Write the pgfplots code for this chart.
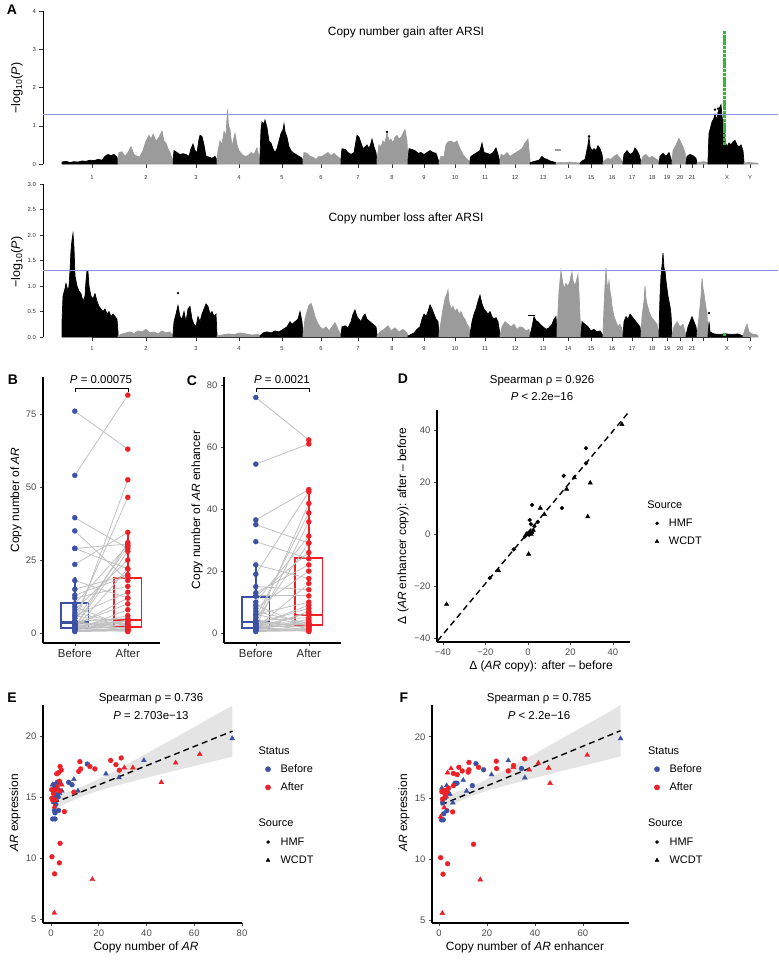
\documentclass[border=0pt]{standalone}
\usepackage{pgfplots}
\pgfplotsset{compat=1.18}
\usepackage{pgfplotstable}
\usepgfplotslibrary{statistics}
\usepackage{fontspec}
\setmainfont{Liberation Sans}
\definecolor{blueC}{RGB}{59,82,164}
\definecolor{redC}{RGB}{236,32,38}
\definecolor{gryM}{RGB}{155,155,155}
\definecolor{greenM}{RGB}{50,185,50}
\definecolor{thrC}{RGB}{140,145,225}
\definecolor{tickC}{RGB}{77,77,77}
\definecolor{pairC}{RGB}{192,192,192}
\newcommand\fs[1]{\fontsize{#1}{#1}\selectfont}
\pgfplotsset{
  manh/.style={scale only axis, width=735bp, height=153bp, xmin=43, xmax=778, ymin=0,
    axis x line*=bottom, axis y line*=left,
    x axis line style={draw=none}, y axis line style={line width=0.5bp,-},
    xtick={92,146,196,239,282,321,358,392,424,455,485,515,543,568,591,612,632,652,667,680,692,703,727,750},
    xticklabels={1,2,3,4,5,6,7,8,9,10,11,12,13,14,15,16,17,18,19,20,21,{},X,Y},
    tick align=outside, major tick length=3.5bp, tick style={line width=0.5bp, black!80},
    xticklabel style={font=\fs{5.8}, text=black!80},
    yticklabel style={font=\fs{6}, text=black!80},
  },
  blk/.style={fill=black, draw=black, line width=0.7bp},
  gry/.style={fill=gryM, draw=gryM, line width=0.7bp},
  ggp/.style={scale only axis, axis lines=left, axis line style={-, line width=1.1bp, black},
    tick align=outside, major tick length=3bp, tick style={line width=0.6bp, black!70},
    ticklabel style={font=\fs{9.5}, text=tickC}, /pgf/number format/assume math mode=true, clip=false},
  leg/.style 2 args={legend style={draw=none, fill=none, inner sep=0pt, outer sep=0pt,
    at={(#1,#2)}, anchor=north west, font=\fs{11}, row sep=7.2bp, column sep=10bp,
    nodes={inner sep=0pt, outer sep=0pt, text height=8.5bp, text depth=2.5bp}},
    legend cell align=left},
  bxp/.style={boxplot/draw direction=y, boxplot/box extend=0.52, boxplot/whisker extend=0,
    boxplot/every box/.style={line width=1.5bp},
    boxplot/every whisker/.style={line width=1.5bp},
    boxplot/every median/.style={line width=2.3bp}},
}
\pgfplotstableread{
b a
76 63
54 81.5
39.5 29
35 18
29 30.5
29 22
23.5 34.5
18 12
3 52.5
5 46.5
2 31
10 30
4 29.5
2 28
8 25
1.5 22
15 20
12 16
6 14
2.5 12
3 10
1 8
2 6
4 5
1 4.5
3 4
2 3.5
1.5 3
6 2.5
2 2
1 1.5
4 1.5
3 1
2 2
9 2
1 1
2.5 4
7 3
3.5 2.5
1.5 1.2
0.5 0.8
13 19.5
2 0.5
}\tabB
\pgfplotstableread{
b a
76 62.3
54.5 61
36.5 46.3
35 29
29.5 24
22 17.6
19 45.6
3 41.8
5 38.8
2 35.9
10 31.3
4 29.1
8 20
1.5 16
15 14
12 12
6 10
2.5 9
3 8
1 7
2 6.4
4 5
1 4.5
3 4
2 3.5
1.5 3
6 2.5
2 2
1 1.5
4 1.5
3 1
2 2
9 2
1 1
2.5 3
7 3
3.5 2.5
1.5 1.2
0.5 0.8
13 22
2 0.5
11.9 26
}\tabC
\begin{document}
\begin{tikzpicture}[x=1bp,y=1bp]
\path[use as bounding box] (0bp,0bp) rectangle (779bp,-967bp);

% ---------------- A top: gain
\begin{axis}[manh, at={(43bp,-164bp)}, anchor=south west, ymax=4, ytick={0,1,2,3,4}, yticklabels={0,1,2,3,4},
  xticklabel style={yshift=-4.5bp}]
\addplot[blk] coordinates {(62,0.05)(66,0.07)(70,0.04)(74,0.06)(78,0.05)(82,0.08)(86,0.07)(90,0.1)(94,0.09)(98,0.12)(102,0.1)(105,0.2)(108,0.25)(111,0.22)(114,0.25)(117,0.18)(118,0.05)} \closedcycle;
\addplot[gry] coordinates {(118,0.1)(119,0.3)(122,0.32)(125,0.2)(128,0.3)(131,0.45)(134,0.25)(137,0.2)(140,0.2)(143,0.35)(146,0.6)(149,0.75)(151,0.65)(153,0.78)(156,0.6)(159,0.7)(162,0.86)(164,0.6)(166,0.55)(168,0.4)(170,0.3)(172,0.15)} \closedcycle;
\addplot[blk] coordinates {(173,0.1)(174,0.35)(177,0.3)(180,0.25)(183,0.27)(186,0.25)(189,0.2)(191,0.4)(193,0.52)(195,0.35)(197,0.3)(199,0.65)(200,0.75)(202,0.72)(204,0.5)(206,0.2)(209,0.18)(212,0.15)(215,0.2)(217,0.1)} \closedcycle;
\addplot[gry] coordinates {(217,0.1)(218,0.35)(220,0.6)(222,0.5)(224,0.85)(226,0.75)(227.5,1.42)(228.5,1.0)(230,0.9)(232,0.45)(234,0.7)(235,0.8)(237,0.5)(239,0.35)(242,0.25)(245,0.2)(248,0.22)(251,0.3)(254,0.25)(257,0.42)(259,0.2)(260,0.05)} \closedcycle;
\addplot[blk] coordinates {(260,0.2)(261,0.9)(262,1.1)(264,1.05)(265,1.15)(267,0.95)(269,0.6)(271,0.55)(273,0.4)(275,0.3)(277,0.4)(279,0.6)(281,0.8)(283,0.9)(284,1.05)(285,0.85)(287,0.7)(289,0.45)(291,0.35)(293,0.3)(296,0.25)(299,0.2)(302,0.15)(303,0.05)} \closedcycle;
\addplot[gry] coordinates {(303,0.1)(304,0.3)(307,0.28)(310,0.2)(313,0.18)(316,0.12)(319,0.2)(322,0.2)(325,0.25)(328,0.3)(331,0.22)(334,0.28)(337,0.2)(340,0.15)(341,0.05)} \closedcycle;
\addplot[blk] coordinates {(341,0.15)(342,0.4)(345,0.38)(348,0.3)(351,0.25)(354,0.3)(356,0.6)(357,0.75)(359,0.7)(361,0.55)(363,0.4)(365,0.45)(367,0.5)(369,0.4)(371,0.55)(372,0.65)(374,0.45)(376,0.3)(377,0.05)} \closedcycle;
\addplot[gry] coordinates {(377,0.1)(379,0.5)(381,0.45)(383,0.6)(385,0.55)(387,0.82)(389,0.6)(391,0.65)(393,0.55)(395,0.7)(397,0.75)(399,0.65)(401,0.7)(403,0.8)(405,0.9)(407,0.6)(408,0.05)} \closedcycle;
\addplot[blk] coordinates {(408,0.1)(409,0.4)(412,0.38)(415,0.35)(418,0.28)(421,0.3)(424,0.25)(427,0.3)(430,0.35)(433,0.3)(436,0.28)(439,0.05)} \closedcycle;
\addplot[gry] coordinates {(439,0.05)(441,0.2)(444,0.2)(446,0.5)(448,0.58)(451,0.6)(454,0.55)(457,0.6)(460,0.4)(463,0.25)(466,0.15)(470,0.05)} \closedcycle;
\addplot[blk] coordinates {(470,0.1)(471,0.2)(474,0.25)(477,0.3)(480,0.35)(482,0.55)(484,0.3)(487,0.28)(490,0.25)(493,0.3)(496,0.42)(498,0.25)(500,0.05)} \closedcycle;
\addplot[gry] coordinates {(500,0.1)(501,0.25)(504,0.22)(507,0.3)(510,0.2)(513,0.25)(516,0.3)(519,0.35)(522,0.4)(525,0.55)(528,0.65)(530,0.1)} \closedcycle;
\addplot[blk] coordinates {(530,0.03)(533,0.06)(536,0.08)(539,0.1)(542,0.2)(544,0.15)(547,0.12)(550,0.08)(553,0.06)(556,0.03)} \closedcycle;
\addplot[gry] coordinates {(556,0.02)(560,0.04)(565,0.03)(570,0.05)(575,0.04)(580,0.02)} \closedcycle;
\addplot[gryM, line width=1.6bp] coordinates {(555,0.37)(561,0.37)};
\addplot[blk] coordinates {(580,0.03)(582,0.08)(585,0.12)(588,0.5)(589,0.7)(590,0.45)(592,0.35)(594,0.4)(596,0.35)(598,0.48)(600,0.4)(602,0.25)(603,0.05)} \closedcycle;
\addplot[gry] coordinates {(603,0.05)(605,0.1)(608,0.15)(611,0.12)(614,0.2)(617,0.25)(620,0.15)(623,0.05)} \closedcycle;
\addplot[blk] coordinates {(623,0.05)(624,0.25)(627,0.35)(630,0.25)(633,0.3)(635,0.42)(637,0.35)(639,0.25)(641,0.05)} \closedcycle;
\addplot[gry] coordinates {(641,0.05)(643,0.2)(646,0.25)(649,0.15)(652,0.2)(655,0.15)(658,0.1)(659,0.03)} \closedcycle;
\addplot[blk] coordinates {(659,0.03)(660,0.2)(663,0.28)(666,0.2)(669,0.3)(672,0.05)} \closedcycle;
\addplot[gry] coordinates {(672,0.05)(673,0.35)(675,0.45)(677,0.55)(679,0.67)(681,0.55)(683,0.45)(685,0.3)(686,0.05)} \closedcycle;
\addplot[blk] coordinates {(686,0.03)(687,0.2)(690,0.25)(693,0.22)(696,0.15)(697,0.03)} \closedcycle;
\addplot[gry] coordinates {(697,0.02)(700,0.05)(704,0.06)(708,0.03)} \closedcycle;
\addplot[blk] coordinates {(708,0.1)(709,0.8)(711,1.0)(712,1.1)(714,1.2)(715,1.3)(717,1.15)(718,1.35)(720,1.5)(721,1.55)(722,1.25)(724,0.9)(725,0.6)(727,0.45)(729,0.55)(731,0.5)(733,0.58)(735,0.62)(737,0.5)(739,0.45)(741,0.5)(743,0.35)(744,0.05)} \closedcycle;
\addplot[gry] coordinates {(744,0.02)(748,0.04)(753,0.03)(758,0.02)} \closedcycle;
\addplot[only marks, mark=*, mark size=1bp, black] coordinates {(715,1.42)(718,1.45)(720,1.38)(589,0.72)(387,0.84)};
\addplot[only marks, mark=square*, mark size=1.1bp, greenM] coordinates {(724,0.55)(724,0.65)(724,0.75)(724,0.85)(724,0.95)(724,1.05)(724,1.15)(724,1.25)(724,1.35)(724,1.45)(724,1.55)(724,1.65)(724,1.75)(724,1.85)(724,1.95)(724,2.05)(724,2.15)(724,2.25)(724,2.35)(724,2.45)(724,2.55)(724,2.65)(724,2.75)(724,2.85)(724,2.95)(724,3.05)(724,3.15)(724,3.25)(724,3.35)(724,3.45)};
\addplot[thrC, line width=0.6bp] coordinates {(43,1.301)(778,1.301)};
\end{axis}

% ---------------- A bottom: loss
\begin{axis}[manh, at={(43bp,-337bp)}, anchor=south west, ymax=3, ytick={0,0.5,1,1.5,2,2.5,3},
  yticklabels={0.0,0.5,1.0,1.5,2.0,2.5,3.0}, xticklabel style={yshift=-2.5bp}]
\addplot[blk] coordinates {(62,0.3)(63,0.8)(65,0.95)(66,1.05)(68,0.9)(69,1.0)(70,1.3)(71,1.7)(72,1.9)(73,2.03)(74,1.75)(75,1.2)(77,1.0)(79,0.9)(81,0.85)(83,0.7)(85,0.8)(86,1.1)(87,1.3)(88,1.28)(89,1.0)(91,0.8)(93,0.75)(95,0.85)(97,0.7)(99,0.6)(101,0.55)(103,0.5)(105,0.55)(107,0.45)(109,0.5)(111,0.4)(113,0.45)(115,0.4)(117,0.35)(118,0.1)} \closedcycle;
\addplot[gry] coordinates {(118,0.02)(122,0.06)(126,0.08)(130,0.1)(134,0.07)(138,0.12)(142,0.1)(146,0.15)(150,0.08)(154,0.1)(158,0.06)(162,0.12)(166,0.08)(170,0.1)(173,0.02)} \closedcycle;
\addplot[blk] coordinates {(173,0.05)(174,0.3)(176,0.45)(178,0.62)(180,0.4)(182,0.35)(184,0.5)(186,0.3)(188,0.55)(190,0.6)(192,0.35)(194,0.25)(196,0.2)(198,0.4)(200,0.3)(202,0.45)(204,0.55)(206,0.65)(208,0.6)(210,0.45)(212,0.5)(214,0.4)(216,0.45)(217,0.05)} \closedcycle;
\addplot[gry] coordinates {(217,0.02)(222,0.04)(228,0.06)(234,0.05)(240,0.08)(246,0.06)(252,0.04)(258,0.05)(260,0.02)} \closedcycle;
\addplot[blk] coordinates {(260,0.02)(263,0.08)(267,0.1)(271,0.08)(275,0.12)(279,0.1)(283,0.15)(287,0.2)(290,0.3)(292,0.25)(295,0.3)(298,0.35)(300,0.5)(302,0.3)(303,0.05)} \closedcycle;
\addplot[gry] coordinates {(303,0.05)(305,0.35)(307,0.5)(309,0.62)(311,0.66)(313,0.55)(315,0.4)(317,0.3)(320,0.2)(323,0.15)(326,0.2)(329,0.12)(332,0.2)(335,0.28)(338,0.15)(341,0.03)} \closedcycle;
\addplot[blk] coordinates {(341,0.05)(342,0.2)(345,0.22)(348,0.18)(351,0.3)(353,0.45)(355,0.53)(357,0.4)(359,0.35)(361,0.3)(363,0.4)(365,0.45)(367,0.35)(370,0.3)(373,0.25)(376,0.2)(377,0.05)} \closedcycle;
\addplot[gry] coordinates {(377,0.02)(380,0.1)(384,0.15)(388,0.22)(391,0.12)(395,0.18)(399,0.1)(403,0.15)(407,0.08)(408,0.02)} \closedcycle;
\addplot[blk] coordinates {(408,0.02)(411,0.05)(414,0.08)(417,0.15)(420,0.2)(422,0.35)(424,0.45)(426,0.4)(428,0.5)(430,0.63)(432,0.55)(434,0.45)(436,0.35)(438,0.3)(439,0.05)} \closedcycle;
\addplot[gry] coordinates {(439,0.05)(441,0.3)(443,0.55)(445,0.75)(447,0.85)(448,0.92)(449,0.7)(451,0.55)(453,0.6)(455,0.5)(457,0.55)(459,0.45)(461,0.5)(463,0.4)(465,0.35)(467,0.25)(469,0.2)(470,0.03)} \closedcycle;
\addplot[blk] coordinates {(470,0.05)(472,0.3)(474,0.45)(476,0.55)(478,0.7)(480,0.82)(482,0.65)(484,0.55)(486,0.5)(488,0.45)(490,0.5)(492,0.4)(494,0.35)(496,0.38)(498,0.3)(500,0.05)} \closedcycle;
\addplot[gry] coordinates {(500,0.03)(502,0.2)(505,0.3)(508,0.25)(511,0.2)(514,0.25)(517,0.15)(520,0.2)(523,0.18)(526,0.12)(529,0.15)(530,0.02)} \closedcycle;
\addplot[black, line width=1.6bp] coordinates {(528,0.42)(535,0.42)};
\addplot[blk] coordinates {(530,0.03)(532,0.2)(534,0.4)(536,0.32)(538,0.3)(540,0.25)(543,0.2)(546,0.15)(549,0.18)(552,0.25)(554,0.35)(556,0.4)(557,0.05)} \closedcycle;
\addplot[gry] coordinates {(557,0.1)(558,0.5)(559,0.9)(560,1.1)(561,1.3)(562,1.15)(564,0.95)(566,1.05)(568,1.0)(570,1.1)(571,1.2)(572,1.27)(573,1.1)(575,1.0)(577,1.15)(578,1.22)(579,0.85)(580,0.4)(581,0.05)} \closedcycle;
\addplot[blk] coordinates {(581,0.05)(582,0.3)(585,0.25)(588,0.2)(591,0.12)(594,0.15)(597,0.1)(600,0.12)(603,0.03)} \closedcycle;
\addplot[gry] coordinates {(603,0.05)(604,0.6)(605,1.0)(606,1.36)(607,1.05)(608,0.95)(609,1.1)(610,0.9)(611,0.8)(612,0.6)(614,0.4)(616,0.3)(618,0.2)(620,0.25)(622,0.15)(623,0.03)} \closedcycle;
\addplot[blk] coordinates {(623,0.03)(624,0.3)(626,0.4)(628,0.35)(630,0.45)(632,0.4)(634,0.35)(636,0.3)(638,0.25)(640,0.2)(641,0.03)} \closedcycle;
\addplot[gry] coordinates {(641,0.03)(642,0.4)(644,0.7)(645,1.0)(646,0.75)(647,0.65)(649,0.5)(651,0.4)(653,0.35)(655,0.3)(657,0.25)(659,0.05)} \closedcycle;
\addplot[blk] coordinates {(659,0.1)(660,0.8)(661,1.2)(662,1.4)(663,1.65)(664,1.35)(665,1.3)(666,1.1)(667,0.95)(668,0.8)(670,0.6)(671,0.45)(672,0.05)} \closedcycle;
\addplot[gry] coordinates {(672,0.03)(674,0.2)(677,0.3)(680,0.2)(683,0.25)(686,0.03)} \closedcycle;
\addplot[blk] coordinates {(686,0.03)(688,0.2)(690,0.3)(692,0.4)(694,0.3)(696,0.2)(697,0.03)} \closedcycle;
\addplot[gry] coordinates {(697,0.03)(699,0.4)(701,0.8)(702,1.15)(703,0.95)(704,0.85)(705,0.7)(707,0.45)(708,0.05)} \closedcycle;
\addplot[blk] coordinates {(708,0.02)(709,0.3)(710,0.1)(714,0.06)(720,0.05)(726,0.06)(732,0.05)(738,0.06)(743,0.02)} \closedcycle;
\addplot[gry] coordinates {(743,0.02)(745,0.15)(747,0.25)(749,0.1)(752,0.06)(756,0.05)(758,0.02)} \closedcycle;
\addplot[only marks, mark=*, mark size=1bp, black] coordinates {(178,0.86)(709,0.47)};
\addplot[only marks, mark=square*, mark size=1.1bp, greenM] coordinates {(724,0.05)};
\addplot[thrC, line width=0.6bp] coordinates {(43,1.301)(778,1.301)};
\draw[line width=0.5bp, black!80] (axis cs:92,0) -- (axis cs:750,0);
\end{axis}

% ---------------- B
\begin{axis}[ggp, at={(43bp,-643bp)}, anchor=south west, width=116.6bp, height=266bp,
  xmin=0.4, xmax=2.6, ymin=-3.4, ymax=87.7, xtick={1,2}, xticklabels={Before,After},
  xticklabel style={font=\fs{11.5}, text=black!85}, ytick={0,25,50,75}]
\addplot[blueC, bxp, boxplot prepared={draw position=1, lower whisker=0.5, lower quartile=1.7, median=3.6, upper quartile=10.3, upper whisker=19.2}] coordinates {};
\addplot[redC, bxp, boxplot prepared={draw position=2, lower whisker=0.5, lower quartile=2, median=4.5, upper quartile=18.8, upper whisker=34.5}] coordinates {};
\addplot[pairC, line width=0.8bp, quiver={u=1, v=\thisrow{a}-\thisrow{b}}] table[x expr=1, y=b] {\tabB};
\addplot[only marks, mark=*, mark size=2.5bp, blueC] table[x expr=1, y=b] {\tabB};
\addplot[only marks, mark=*, mark size=2.5bp, redC] table[x expr=2, y=a] {\tabB};
\draw[line width=0.6bp] (axis cs:1,82.5) -- (axis cs:1,83.9) -- (axis cs:2,83.9) -- (axis cs:2,82.5);
\end{axis}

% ---------------- C
\begin{axis}[ggp, at={(224bp,-643bp)}, anchor=south west, width=116.6bp, height=266bp,
  xmin=0.4, xmax=2.6, ymin=-3.2, ymax=82.6, xtick={1,2}, xticklabels={Before,After},
  xticklabel style={font=\fs{11.5}, text=black!85}, ytick={0,20,40,60,80}]
\addplot[blueC, bxp, boxplot prepared={draw position=1, lower whisker=0.5, lower quartile=1.6, median=3.5, upper quartile=11.6, upper whisker=22.6}] coordinates {};
\addplot[redC, bxp, boxplot prepared={draw position=2, lower whisker=0.5, lower quartile=2.6, median=5.8, upper quartile=24.2, upper whisker=46.3}] coordinates {};
\addplot[pairC, line width=0.8bp, quiver={u=1, v=\thisrow{a}-\thisrow{b}}] table[x expr=1, y=b] {\tabC};
\addplot[only marks, mark=*, mark size=2.5bp, blueC] table[x expr=1, y=b] {\tabC};
\addplot[only marks, mark=*, mark size=2.5bp, redC] table[x expr=2, y=a] {\tabC};
\draw[line width=0.6bp] (axis cs:1,77.7) -- (axis cs:1,79) -- (axis cs:2,79) -- (axis cs:2,77.7);
\end{axis}

% ---------------- D
\begin{axis}[ggp, at={(437bp,-642bp)}, anchor=south west, width=193bp, height=232bp,
  xmin=-42.8, xmax=48, ymin=-41.5, ymax=47.7,
  xtick={-40,-20,0,20,40}, xticklabels={−40,−20,0,20,40},
  ytick={-40,-20,0,20,40}, yticklabels={−40,−20,0,20,40}, leg={1.096}{0.614}]
\addplot[forget plot, black, line width=1.4bp, dash pattern=on 6bp off 4bp] coordinates {(-42.5,-41)(47,46.5)};
\addplot[forget plot, only marks, mark=*, mark size=1.9bp, black] coordinates {(27.3,33)(27.3,27.2)(16.8,22.4)(16,10)(1.9,11.2)(0.8,5.4)(4.6,4.7)(1.4,3.8)(0,0)(-1,-0.5)(1,1)(2,0.5)(0.5,-0.3)(-0.5,0.3)(-6.7,-5.9)(-18,-16.9)(3,3)(-1.5,-1)};
\addplot[forget plot, only marks, mark=triangle*, mark size=2.5bp, black] coordinates {(21.8,21.7)(29.3,19.7)(18.2,17.3)(28.1,6.7)(5.8,10)(7.7,7.6)(0.3,-7.7)(-13.8,-14.1)(44.2,42.2)(-38.3,-27)(1.5,0)(2.5,1.5)};
\addlegendimage{empty legend}\addlegendentry{\hspace*{-21.5bp}Source}
\addlegendimage{only marks, mark=*, mark size=1.5bp, black}\addlegendentry{HMF}
\addlegendimage{only marks, mark=triangle*, mark size=2.2bp, black}\addlegendentry{WCDT}
\end{axis}

% ---------------- E
\begin{axis}[ggp, at={(43bp,-923bp)}, anchor=south west, width=199bp, height=218bp,
  xmin=-3.35, xmax=80, ymin=4.67, ymax=22.54, xtick={0,20,40,60,80}, ytick={5,10,15,20},
  leg={1.088}{0.8142}]
\addplot[forget plot, only marks, mark=*, mark size=2.4bp, blueC] coordinates {(15.2,17.7)(7.4,16.2)(8.8,16.0)(2.65,16.2)(3.5,16.2)(1.8,15.8)(1.4,13.9)(1.7,13.7)(0.7,13.2)(1.7,13.2)(3.2,13.9)(2.65,15.2)(2.1,15.0)(1.0,14.6)(2.0,14.4)(3.0,15.0)(1.2,16.0)};
\addplot[forget plot, only marks, mark=triangle*, mark size=2.8bp, blueC] coordinates {(75.9,19.8)(38.9,18.0)(28.5,16.6)(23.0,16.9)(9.6,16.45)(11.3,15.5)(4.6,15.5)(0.6,16.0)(2.5,15.8)(3.6,15.3)};
\addplot[forget plot, only marks, mark=*, mark size=2.4bp, redC] coordinates {(29.4,18.2)(27.2,17.65)(25.0,18.0)(28.6,17.2)(18.4,17.3)(16.3,17.5)(12.1,17.9)(12.4,17.3)(11.6,17.1)(9.6,15.4)(5.6,13.8)(3.8,17.5)(4.3,17.2)(3.2,17.0)(2.4,16.9)(3.5,16.3)(0.3,15.6)(1.0,15.3)(0.4,14.9)(0.7,14.75)(3.8,15.5)(2.0,15.6)(3.8,11.2)(0.4,10.1)(3.5,9.6)(1.5,8.7)};
\addplot[forget plot, only marks, mark=triangle*, mark size=2.8bp, redC] coordinates {(62.3,18.5)(52.2,17.8)(46.2,16.2)(34.3,17.4)(30.7,17.4)(17.3,8.25)(1.4,5.5)(2.65,15.9)(2.1,14.75)(1.4,14.2)(4.5,16.0)};
\addplot[forget plot, fill=gray!70, fill opacity=0.3, draw=none] coordinates {(1,15.03)(5,15.27)(10,15.61)(15,16.01)(20,16.47)(30,17.48)(40,18.56)(50,19.65)(60,20.74)(70,21.84)(76,22.50)(76,18.30)(70,18.02)(60,17.54)(50,17.07)(40,16.58)(30,16.07)(20,15.52)(15,15.19)(10,14.80)(5,14.35)(1,13.96)};
\addplot[forget plot, black, line width=1.4bp, dash pattern=on 6bp off 4bp] coordinates {(1,14.50)(76,20.40)};
\addlegendimage{empty legend}\addlegendentry{\hspace*{-22bp}Status}
\addlegendimage{only marks, mark=*, mark size=2.6bp, blueC}\addlegendentry{Before}
\addlegendimage{only marks, mark=*, mark size=2.6bp, redC}\addlegendentry{After}
\addlegendimage{empty legend}\addlegendentry{}
\addlegendimage{empty legend}\addlegendentry{\hspace*{-22bp}Source}
\addlegendimage{only marks, mark=*, mark size=1.5bp, black}\addlegendentry{HMF}
\addlegendimage{only marks, mark=triangle*, mark size=2.2bp, black}\addlegendentry{WCDT}
\end{axis}

% ---------------- F
\begin{axis}[ggp, at={(432bp,-923bp)}, anchor=south west, width=197bp, height=218bp,
  xmin=-2.9, xmax=79.2, ymin=4.75, ymax=22.6, xtick={0,20,40,60}, ytick={5,10,15,20},
  leg={1.099}{0.8142}]
\addplot[forget plot, only marks, mark=*, mark size=2.4bp, blueC] coordinates {(15.4,17.8)(18.6,17.3)(34.4,17.4)(7.5,16.2)(6.7,16.2)(13.9,16.0)(1.1,13.2)(1.8,13.2)(3.3,13.95)(2.5,15.0)(1.5,14.6)(3.0,15.6)(2.0,13.7)};
\addplot[forget plot, only marks, mark=triangle*, mark size=2.8bp, blueC] coordinates {(75.7,19.85)(35.8,16.65)(28.9,18.05)(21.9,16.9)(10.1,16.45)(3.2,16.0)(11.5,15.55)(5.8,14.6)(4.5,15.3)(1.2,15.8)};
\addplot[forget plot, only marks, mark=*, mark size=2.4bp, redC] coordinates {(35.7,18.2)(31.1,17.65)(28.9,17.2)(23.9,18.0)(24.0,17.4)(16.5,17.5)(12.5,17.9)(12.5,17.3)(12.2,17.1)(9.7,17.2)(8.3,17.5)(7.6,16.9)(6.0,17.0)(6.1,16.0)(5.7,13.85)(2.0,15.6)(2.5,15.3)(3.5,15.5)(1.5,14.9)(14.4,11.2)(0.7,10.1)(3.6,9.6)(1.7,8.75)(4.0,15.8)(1.2,15.5)};
\addplot[forget plot, only marks, mark=triangle*, mark size=2.8bp, redC] coordinates {(61.8,18.5)(46.3,16.2)(45.7,17.45)(41.4,17.85)(37.6,17.3)(31.0,17.5)(5.0,17.4)(3.6,17.05)(0.7,13.45)(17.2,8.3)(1.4,5.55)(2.2,14.2)(3.0,15.1)};
\addplot[forget plot, fill=gray!70, fill opacity=0.3, draw=none] coordinates {(0.9,15.0)(5,15.3)(10,15.66)(15,16.06)(20,16.52)(30,17.55)(40,18.62)(50,19.72)(60,20.82)(70,21.93)(75.7,22.6)(75.7,18.4)(70,18.1)(60,17.62)(50,17.14)(40,16.64)(30,16.12)(20,15.58)(15,15.24)(10,14.86)(5,14.4)(0.9,13.9)};
\addplot[forget plot, black, line width=1.4bp, dash pattern=on 6bp off 4bp] coordinates {(0.9,14.43)(75.7,20.5)};
\addlegendimage{empty legend}\addlegendentry{\hspace*{-21.5bp}Status}
\addlegendimage{only marks, mark=*, mark size=2.6bp, blueC}\addlegendentry{Before}
\addlegendimage{only marks, mark=*, mark size=2.6bp, redC}\addlegendentry{After}
\addlegendimage{empty legend}\addlegendentry{}
\addlegendimage{empty legend}\addlegendentry{\hspace*{-21.5bp}Source}
\addlegendimage{only marks, mark=*, mark size=1.5bp, black}\addlegendentry{HMF}
\addlegendimage{only marks, mark=triangle*, mark size=2.2bp, black}\addlegendentry{WCDT}
\end{axis}

% ---------------- text
\node[font=\fs{14}\bfseries] at (12bp,-10bp) {A};
\node[font=\fs{14}\bfseries] at (13bp,-380bp) {B};
\node[font=\fs{14}\bfseries] at (192bp,-381bp) {C};
\node[font=\fs{14}\bfseries] at (403bp,-379bp) {D};
\node[font=\fs{14}\bfseries] at (12bp,-698bp) {E};
\node[font=\fs{14}\bfseries] at (404bp,-698bp) {F};
\node[font=\fs{12}] at (406bp,-32bp) {Copy number gain after ARSI};
\node[font=\fs{12}] at (406bp,-218bp) {Copy number loss after ARSI};
\node[rotate=90, font=\fs{12.5}] at (17bp,-88bp) {−log\textsubscript{10}(\textit{P})};
\node[rotate=90, font=\fs{12.5}] at (17bp,-262bp) {−log\textsubscript{10}(\textit{P})};
\node[font=\fs{11.5}] at (101bp,-380bp) {\textit{P} = 0.00075};
\node[font=\fs{11.5}] at (282bp,-380bp) {\textit{P} = 0.0021};
\node[rotate=90, font=\fs{12}] at (16bp,-500bp) {Copy number of \textit{AR}};
\node[rotate=90, font=\fs{12}] at (197bp,-510bp) {Copy number of \textit{AR} enhancer};
\node[font=\fs{11.5}] at (542bp,-381bp) {Spearman ρ = 0.926};
\node[font=\fs{11.5}] at (542bp,-397bp) {\textit{P} < 2.2e−16};
\node[rotate=90, font=\fs{12}] at (403bp,-526bp) {Δ (\textit{AR} enhancer copy): after – before};
\node[font=\fs{12}] at (541bp,-666bp) {Δ (\textit{AR} copy): after – before};
\node[font=\fs{11.5}] at (151bp,-699bp) {Spearman ρ = 0.736};
\node[font=\fs{11.5}] at (151bp,-716bp) {\textit{P} = 2.703e−13};
\node[font=\fs{11.5}] at (539bp,-699bp) {Spearman ρ = 0.785};
\node[font=\fs{11.5}] at (539bp,-716bp) {\textit{P} < 2.2e−16};
\node[rotate=90, font=\fs{12}] at (15bp,-813bp) {\textit{AR} expression};
\node[rotate=90, font=\fs{12}] at (404bp,-813bp) {\textit{AR} expression};
\node[font=\fs{12}] at (146bp,-947bp) {Copy number of \textit{AR}};
\node[font=\fs{12}] at (525bp,-947bp) {Copy number of \textit{AR} enhancer};
\end{tikzpicture}
\end{document}
